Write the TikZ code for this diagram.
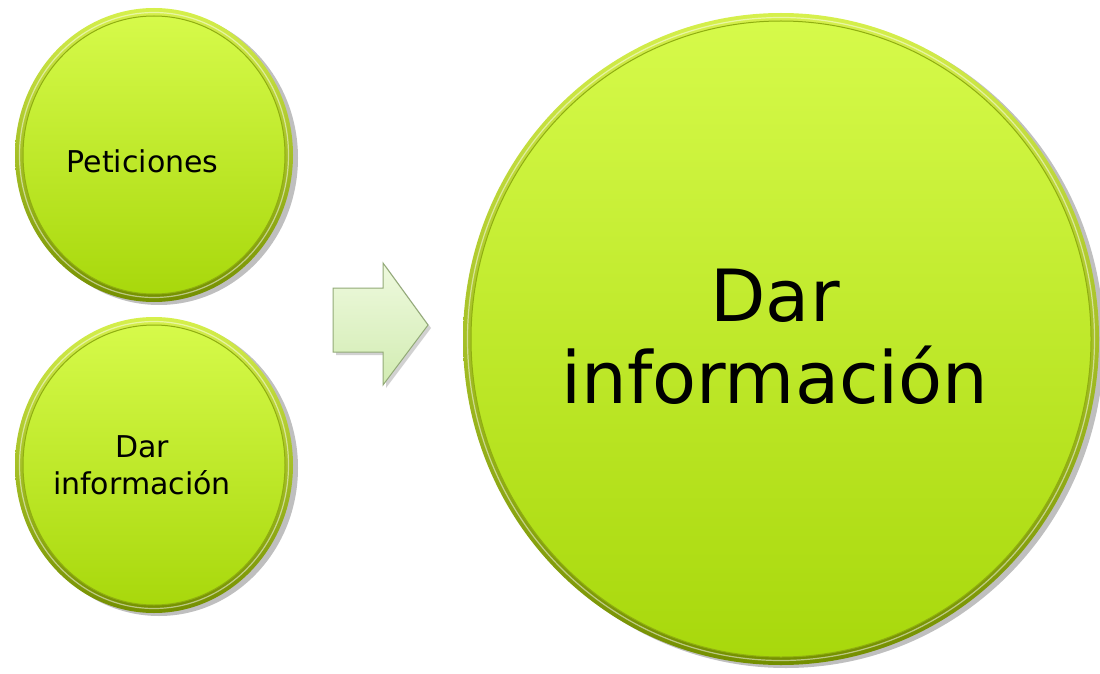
\documentclass[tikz,border=0pt]{standalone}
\usepackage{fontspec}
\setmainfont{DejaVu Sans}
\usetikzlibrary{shapes.geometric}
\definecolor{rimlight}{HTML}{D6F04C}
\definecolor{rimdark}{HTML}{748F00}
\definecolor{filltop}{HTML}{D6FA4A}
\definecolor{fillbot}{HTML}{A8D80C}
\definecolor{arrtop}{HTML}{EEF9DE}
\definecolor{arrbot}{HTML}{D2ECB2}
\definecolor{arredge}{HTML}{93AA78}
\definecolor{rimline}{HTML}{8FAE10}
\newcommand\bubble[5]{%
  \fill[black, opacity=0.25] (#2+5,#3+3) ellipse [x radius=#4pt, y radius=#5pt];
  \shade[top color=rimlight, bottom color=rimdark] (#2,#3) ellipse [x radius=#4pt, y radius=#5pt];
  \shade[top color=filltop, bottom color=fillbot, draw=rimline, line width=1pt] (#2,#3) ellipse [x radius=#4pt-8pt, y radius=#5pt-8pt];
  \draw[white, opacity=0.5, line width=1.2pt] (#2,#3) ellipse [x radius=#4pt-4.5pt, y radius=#5pt-4.5pt];
  \node[ellipse, minimum width=2*#4pt, minimum height=2*#5pt, inner sep=0pt] (#1) at (#2,#3) {};
}
\tikzset{
  small/.style={align=center, font=\fontsize{30}{37}\selectfont, text=black},
  big/.style={align=center, font=\fontsize{72}{82}\selectfont, text=black},
}
\begin{document}
\begin{tikzpicture}[x=1pt, y=-1pt]
  \useasboundingbox (0,0) rectangle (1100,674);
  \fill[white] (0,0) rectangle (1100,674);
  \bubble{c1}{154}{155}{139}{147}
  \bubble{c2}{154}{465}{139}{148}
  \bubble{c3}{781}{339}{318}{326}
  % arrow
  \fill[black, opacity=0.18] (336,291) -- (386,291) -- (386,266) -- (431,328) -- (386,388) -- (386,355) -- (336,355) -- cycle;
  \shade[top color=arrtop, bottom color=arrbot, draw=arredge, line width=1pt]
    (333,288) -- (383,288) -- (383,263) -- (428,325) -- (383,385) -- (383,352) -- (333,352) -- cycle;
  % texts
  \node[small, anchor=base] (t1) at (142.5,172) {Peticiones};
  \node[small] (t2) at (142,465) {Dar\\información};
  \node[big] (t3) at (775,337) {Dar\\información};
\end{tikzpicture}
\end{document}
